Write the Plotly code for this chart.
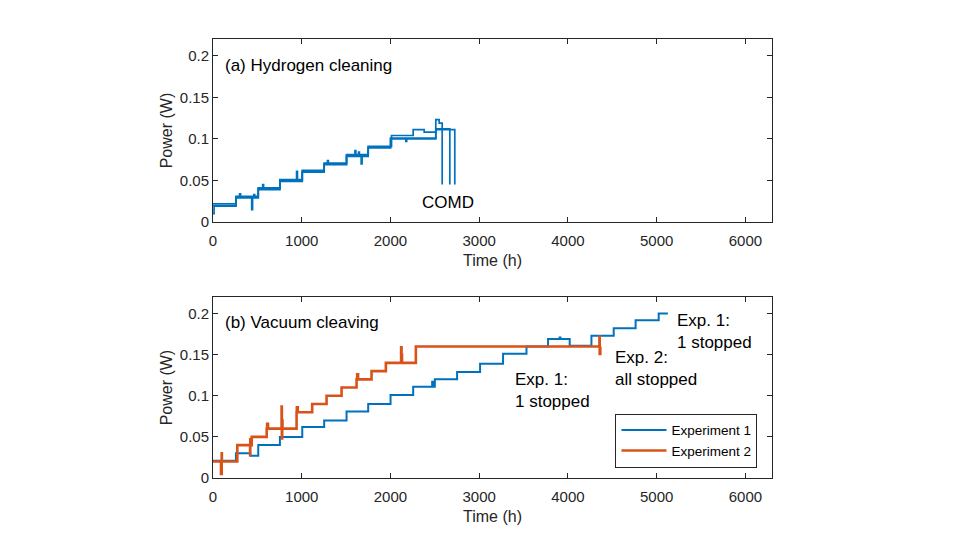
import plotly.graph_objects as go

# ---------------- data ----------------
# (a) Hydrogen cleaning: three devices, step start times (h) and power levels (W)
h_starts_a = [0, 259, 510, 754, 1006, 1253, 1505, 1749, 2012, 2256, 2380, 2511, 2549]
h_levels_a = [0.022, 0.031, 0.041, 0.051, 0.062, 0.071, 0.081, 0.091, 0.104, 0.111, 0.108, 0.123, 0.119]
h_end_a, h_drop_a = 2583, 0.045
h_spikes_a = [(436, 0.015), (560, 0.045), (942, 0.061), (1600, 0.086), (1670, 0.070)]

h_starts_b = [0, 12, 259, 510, 754, 1006, 1253, 1505, 1749, 2001, 2511]
h_levels_b = [0.010, 0.019, 0.029, 0.040, 0.050, 0.060, 0.069, 0.079, 0.089, 0.100, 0.112]
h_end_b, h_drop_b = 2669, 0.045
h_spikes_b = [(460, 0.033), (2173, 0.097), (1640, 0.084)]

h_starts_c = [0, 259, 510, 754, 1006, 1253, 1505, 1749, 2001, 2511]
h_levels_c = [0.020, 0.030, 0.039, 0.049, 0.061, 0.070, 0.080, 0.090, 0.101, 0.111]
h_end_c, h_drop_c = 2725, 0.045
h_spikes_c = [(300, 0.034), (1290, 0.074)]

# (b) Vacuum cleaving
exp1_starts = [0, 259, 420, 510, 754, 1006, 1253, 1505, 1749, 2001, 2256, 2500, 2751,
               3010, 3269, 3533, 3776, 4020, 4265, 4516, 4763, 5023]
exp1_levels = [0.021, 0.030, 0.027, 0.040, 0.050, 0.062, 0.070, 0.081, 0.090, 0.101, 0.111,
               0.120, 0.129, 0.139, 0.151, 0.160, 0.169, 0.161, 0.173, 0.182, 0.192, 0.200]
exp1_end = 5127
exp1_spikes = [(2470, 0.117), (3906, 0.171)]

exp2_starts = [0, 98, 274, 436, 605, 780, 942, 1118, 1280, 1449, 1618, 1787, 1948, 2125, 2286]
exp2_levels = [0.020, 0.030, 0.040, 0.050, 0.060, 0.070, 0.080, 0.090, 0.100, 0.110,
               0.120, 0.130, 0.140, 0.150, 0.160]
exp2_end = 4360
exp2_spikes = [(90, 0.005), (418, 0.028), (420, 0.047), (610, 0.066), (773, 0.087),
               (776, 0.048), (945, 0.086), (1625, 0.126), (2120, 0.159), (4355, 0.172),
               (4358, 0.151)]

x_ticks = [0, 1000, 2000, 3000, 4000, 5000, 6000]
y_ticks = [0, 0.05, 0.1, 0.15, 0.2]
y_tick_text = ["0", "0.05", "0.1", "0.15", "0.2"]


def build(starts, levels, end, spikes, drop=None):
    pts = list(zip(starts, levels))
    for ts, vs in spikes:
        idx = max(i for i, t in enumerate(starts) if t <= ts)
        pts.append((ts, vs))
        pts.append((ts + 10, levels[idx]))
    pts.sort(key=lambda p: p[0])
    pts.append((end, levels[-1]))
    if drop is not None:
        pts.append((end, drop))
    return [p[0] for p in pts], [p[1] for p in pts]


BLUE = "#0072BD"
ORANGE = "#D95319"
FONT = "Liberation Sans, Arial, sans-serif"
AX = "#262626"

fig = go.Figure()

for s, l, e, sp, d in [
    (h_starts_a, h_levels_a, h_end_a, h_spikes_a, h_drop_a),
    (h_starts_b, h_levels_b, h_end_b, h_spikes_b, h_drop_b),
    (h_starts_c, h_levels_c, h_end_c, h_spikes_c, h_drop_c),
]:
    x, y = build(s, l, e, sp, d)
    fig.add_trace(go.Scatter(x=x, y=y, mode="lines", line=dict(color=BLUE, width=1.7, shape="hv"),
                             showlegend=False, xaxis="x", yaxis="y"))

x1, y1 = build(exp1_starts, exp1_levels, exp1_end, exp1_spikes)
fig.add_trace(go.Scatter(x=x1, y=y1, mode="lines", name="Experiment 1",
                         line=dict(color=BLUE, width=2, shape="hv"), xaxis="x2", yaxis="y2"))
x2, y2 = build(exp2_starts, exp2_levels, exp2_end, exp2_spikes)
fig.add_trace(go.Scatter(x=x2, y=y2, mode="lines", name="Experiment 2",
                         line=dict(color=ORANGE, width=2.6, shape="hv"), xaxis="x2", yaxis="y2"))

axis_common = dict(showline=True, linecolor=AX, linewidth=1, mirror="ticks", ticks="inside",
                   ticklen=5, tickcolor=AX, showgrid=False, zeroline=False,
                   tickfont=dict(family=FONT, size=15, color="#262626"))
xax = dict(axis_common, range=[0, 6300], tickvals=x_ticks, ticklabelstandoff=5,
           title=dict(text="Time (h)", font=dict(family=FONT, size=16, color="#262626"), standoff=6))
yax = dict(axis_common, range=[0, 0.22], tickvals=y_ticks, ticktext=y_tick_text,
           title=dict(text="Power (W)", font=dict(family=FONT, size=16, color="#262626"), standoff=3))

fig.update_layout(
    width=960, height=540,
    margin=dict(l=213, r=188, t=39, b=62),
    paper_bgcolor="white", plot_bgcolor="white",
    font=dict(family=FONT, color="#262626"),
    xaxis=dict(xax, domain=[0, 1], anchor="y"),
    yaxis=dict(yax, domain=[0.583, 1], anchor="x"),
    xaxis2=dict(xax, domain=[0, 1], anchor="y2"),
    yaxis2=dict(yax, domain=[0, 0.412], anchor="x2"),
    legend=dict(x=0.974, y=0.0235, xanchor="right", yanchor="bottom",
                bordercolor=AX, borderwidth=1, bgcolor="white",
                font=dict(family=FONT, size=13.5, color="#000000"),
                tracegroupgap=0, itemwidth=45),
    annotations=[
        dict(text="(a) Hydrogen cleaning", xref="x domain", yref="y domain", x=0.018, y=0.854,
             xanchor="left", yanchor="middle", showarrow=False, font=dict(size=17, color="#000")),
        dict(text="COMD", xref="x", yref="y", x=2646, y=0.0233, xanchor="center", yanchor="middle",
             showarrow=False, font=dict(size=17, color="#000")),
        dict(text="(b) Vacuum cleaving", xref="x2 domain", yref="y2 domain", x=0.018, y=0.857,
             xanchor="left", yanchor="middle", showarrow=False, font=dict(size=17, color="#000")),
        dict(text="Exp. 1:<br>1 stopped", xref="x2", yref="y2", x=3378, y=0.107, xanchor="left",
             yanchor="middle", align="left", showarrow=False, font=dict(size=17, color="#000")),
        dict(text="Exp. 2:<br>all stopped", xref="x2", yref="y2", x=4505, y=0.133, xanchor="left",
             yanchor="middle", align="left", showarrow=False, font=dict(size=17, color="#000")),
        dict(text="Exp. 1:<br>1 stopped", xref="x2", yref="y2", x=5211, y=0.178, xanchor="left",
             yanchor="middle", align="left", showarrow=False, font=dict(size=17, color="#000")),
    ],
)

fig.write_html("out.html")
